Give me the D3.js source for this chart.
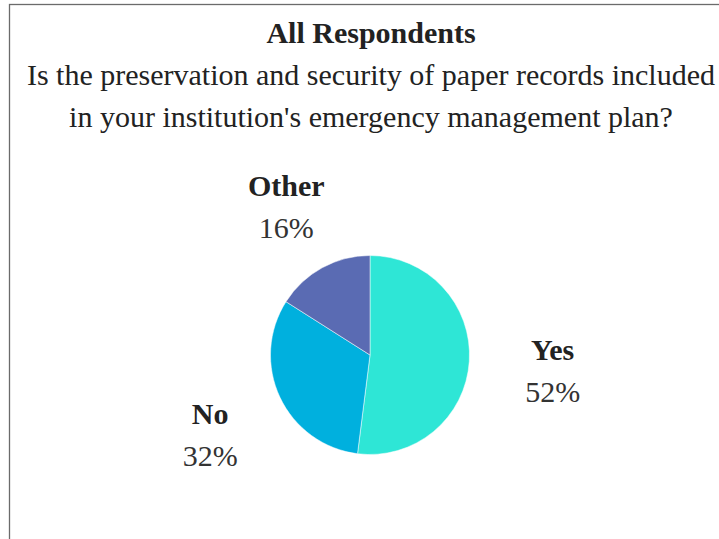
<!DOCTYPE html>
<html><head><meta charset="utf-8">
<script src="https://cdn.jsdelivr.net/npm/d3@7"></script>
<style>html,body{margin:0;padding:0;background:#fff;overflow:hidden}</style>
</head><body>
<script>
const categories = ["Yes", "No", "Other"];
const values = [52, 32, 16];
const colors = ["#2ee6d6", "#00b0de", "#5a6bb3"];
const titleText = "All Respondents";
const subtitleLines = ["Is the preservation and security of paper records included", "in your institution's emergency management plan?"];

const W = 719, H = 539;
const svg = d3.select("body").append("svg").attr("width", W).attr("height", H);
svg.append("rect").attr("x", 9.5).attr("y", 4.5).attr("width", 760).attr("height", 600)
  .attr("fill", "#fff").attr("stroke", "#6b6b6b").attr("stroke-width", 1.3);

const cx = 370, cy = 355, R = 99.5;
const font = "'Liberation Serif', 'Times New Roman', serif";

svg.append("text").attr("x", cx + 1).attr("y", 43).attr("text-anchor", "middle")
  .attr("font-family", font).attr("font-size", 30).attr("font-weight", "bold").attr("fill", "#222").text(titleText);
subtitleLines.forEach((t, i) => {
  svg.append("text").attr("x", cx + 1).attr("y", 85 + i * 42).attr("text-anchor", "middle")
    .attr("font-family", font).attr("font-size", 30).attr("fill", "#222").text(t);
});

const pie = d3.pie().sort(null).value(d => d.v);
const data = pie(categories.map((c, i) => ({c, v: values[i], col: colors[i]})));
const arc = d3.arc().innerRadius(0).outerRadius(R);
const g = svg.append("g").attr("transform", `translate(${cx},${cy})`);
g.selectAll("path").data(data).join("path").attr("d", arc).attr("fill", d => d.data.col)
  .attr("stroke", "#fff").attr("stroke-width", 0.5);

const rx = 180, ry = 175, xOff = 3, yOff = 6;
data.forEach(d => {
  const a = (d.startAngle + d.endAngle) / 2;
  const lx = Math.sin(a) * rx + xOff, ly = -Math.cos(a) * ry + yOff;
  g.append("text").attr("x", lx).attr("y", ly - 12).attr("text-anchor", "middle")
    .attr("font-family", font).attr("font-size", 30).attr("font-weight", "bold").attr("fill", "#222").text(d.data.c);
  g.append("text").attr("x", lx).attr("y", ly + 30).attr("text-anchor", "middle")
    .attr("font-family", font).attr("font-size", 30).attr("fill", "#333").text(d.data.v + "%");
});
</script>
</body></html>
